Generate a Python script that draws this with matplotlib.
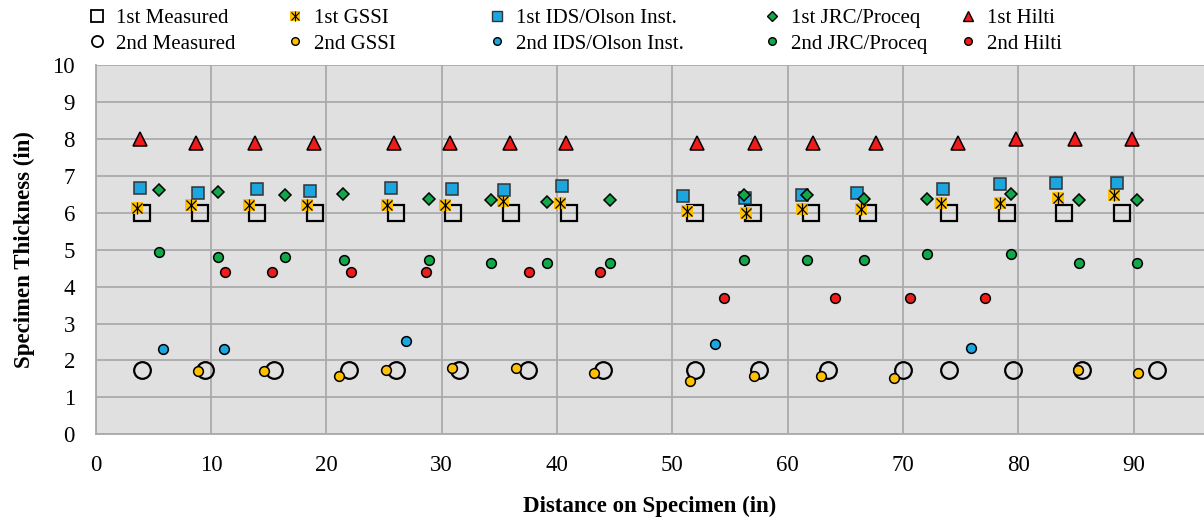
import matplotlib
matplotlib.use("Agg")
from matplotlib import pyplot as plt
from matplotlib.lines import Line2D
from matplotlib.legend_handler import HandlerTuple

plt.rcParams['font.family'] = ['Liberation Serif', 'DejaVu Serif']

# measured thickness
meas1_x = [4, 9, 14, 19, 26, 31, 36, 41, 52, 57, 62, 67, 74, 79, 84, 89]
meas1_y = [6.0] * 16
meas2_x = [4, 9.5, 15.5, 22, 26, 31.5, 37.5, 44, 52, 57.5, 63.5, 70, 74, 79.5, 85.5, 92]
meas2_y = [1.75] * 16

# GSSI
gssi1_x = [3.6, 8.25, 13.3, 18.3, 25.3, 30.3, 35.3, 40.3, 51.3, 56.4, 61.2, 66.4, 73.3, 78.4, 83.4, 88.3]
gssi1_y = [6.12, 6.2, 6.2, 6.2, 6.2, 6.2, 6.33, 6.27, 6.05, 5.99, 6.11, 6.11, 6.27, 6.27, 6.41, 6.48]
gssi2_x = [8.9, 14.6, 21.1, 25.2, 30.9, 36.4, 43.2, 51.5, 57.1, 62.9, 69.2, 85.2, 90.4]
gssi2_y = [1.72, 1.72, 1.59, 1.73, 1.8, 1.8, 1.66, 1.45, 1.59, 1.59, 1.52, 1.73, 1.66]

# IDS/Olson
ids1_x = [3.85, 8.9, 14.0, 18.55, 25.6, 30.9, 35.4, 40.4, 50.9, 56.3, 61.2, 66.05, 73.5, 78.4, 83.3, 88.55]
ids1_y = [6.68, 6.53, 6.64, 6.6, 6.68, 6.64, 6.61, 6.72, 6.45, 6.39, 6.49, 6.53, 6.64, 6.77, 6.8, 6.8]
ids2_x = [5.8, 11.15, 26.9, 53.7, 75.9]
ids2_y = [2.3, 2.3, 2.53, 2.45, 2.34]

# JRC/Proceq
jrc1_x = [5.5, 10.6, 16.45, 21.45, 28.9, 34.3, 39.1, 44.6, 56.25, 61.7, 66.6, 72.1, 79.4, 85.25, 90.3]
jrc1_y = [6.62, 6.57, 6.47, 6.51, 6.38, 6.34, 6.3, 6.34, 6.48, 6.47, 6.38, 6.38, 6.51, 6.34, 6.34]
jrc2_x = [5.5, 10.6, 16.45, 21.5, 28.9, 34.3, 39.1, 44.6, 56.25, 61.7, 66.6, 72.1, 79.4, 85.25, 90.3]
jrc2_y = [4.93, 4.8, 4.8, 4.72, 4.72, 4.65, 4.65, 4.65, 4.72, 4.72, 4.72, 4.88, 4.88, 4.65, 4.65]

# Hilti
hilti1_x = [3.8, 8.7, 13.8, 18.9, 25.9, 30.7, 35.9, 40.8, 52.1, 57.2, 62.2, 67.7, 74.8, 79.8, 84.9, 89.9]
hilti1_y = [8.0, 7.9, 7.9, 7.9, 7.9, 7.9, 7.9, 7.9, 7.9, 7.9, 7.9, 7.9, 7.9, 8.0, 8.0, 8.0]
hilti2_x = [11.2, 15.3, 22.1, 28.6, 37.6, 43.7, 54.5, 64.1, 70.6, 77.1]
hilti2_y = [4.4, 4.4, 4.4, 4.4, 4.4, 4.4, 3.7, 3.7, 3.7, 3.7]

yellow = '#FFC000'
blue = '#1CA6E0'
green = '#12A84A'
red = '#F01C1C'

fig = plt.figure(figsize=(12.04, 5.23), dpi=100)
ax = fig.add_axes([0.0795, 0.1696, 0.9205, 0.7061])
ax.set_facecolor('#E0E0E0')

ew = 1.1
ax.plot(meas1_x, meas1_y, ls='none', marker='s', ms=11.5, mfc='none', mec='black', mew=1.6)
ax.plot(meas2_x, meas2_y, ls='none', marker='o', ms=12, mfc='none', mec='black', mew=1.6)
ax.plot(gssi1_x, gssi1_y, ls='none', marker='s', ms=8, mfc=yellow, mec=yellow, mew=0)
ax.plot(gssi1_x, gssi1_y, ls='none', marker='x', ms=7, mec='black', mew=0.9)
ax.plot(gssi1_x, gssi1_y, ls='none', marker='|', ms=8, mec='black', mew=0.9)
ax.plot(gssi2_x, gssi2_y, ls='none', marker='o', ms=7, mfc=yellow, mec='black', mew=ew)
ax.plot(ids1_x, ids1_y, ls='none', marker='s', ms=8, mfc=blue, mec='#333333', mew=ew)
ax.plot(ids2_x, ids2_y, ls='none', marker='o', ms=7, mfc=blue, mec='black', mew=ew)
ax.plot(jrc1_x, jrc1_y, ls='none', marker='D', ms=6.5, mfc=green, mec='black', mew=ew)
ax.plot(jrc2_x, jrc2_y, ls='none', marker='o', ms=7, mfc=green, mec='black', mew=ew)
ax.plot(hilti1_x, hilti1_y, ls='none', marker='^', ms=9.5, mfc=red, mec='black', mew=ew)
ax.plot(hilti2_x, hilti2_y, ls='none', marker='o', ms=7, mfc=red, mec='black', mew=ew)

ax.set_xlim(0, 96.1)
ax.set_ylim(0, 10)
ax.set_xticks(range(0, 100, 10))
ax.set_yticks(range(0, 11))
ax.grid(True, color='#AAAAAA', lw=1.3)
ax.set_axisbelow(True)
for s in ['top', 'right']:
    ax.spines[s].set_visible(False)
for s in ['left', 'bottom']:
    ax.spines[s].set_color('#AAAAAA')
    ax.spines[s].set_linewidth(1.3)
ax.tick_params(length=0, labelsize=16.5, pad=15)

ax.set_xlabel('Distance on Specimen (in)', fontsize=16.5, fontweight='bold')
ax.set_ylabel('Specimen Thickness (in)', fontsize=16.5, fontweight='bold')
ax.xaxis.set_label_coords(0.5, -0.195)
ax.xaxis.label.set_va('center')
ax.yaxis.set_label_coords(-0.0645, 0.5)
ax.yaxis.label.set_va('center')

# legend handles, smaller than the plotted markers
def h(marker, ms, fc, ec='black', mew=1.0):
    return Line2D([], [], ls='none', marker=marker, ms=ms, mfc=fc, mec=ec, mew=mew)

gssi_leg = (h('s', 7, yellow, yellow, 0), h('x', 6, 'none', 'black', 0.8), h('|', 7, 'none', 'black', 0.8))
columns = [
    ([h('s', 8.5, 'none', 'black', 1.3), h('o', 8, 'none', 'black', 1.3)],
     ['1st Measured', '2nd Measured']),
    ([gssi_leg, h('o', 5.5, yellow)], ['1st GSSI', '2nd GSSI']),
    ([h('s', 7, blue, '#333333'), h('o', 5.5, blue)], ['1st IDS/Olson Inst.', '2nd IDS/Olson Inst.']),
    ([h('D', 5.5, green), h('o', 5.5, green)], ['1st JRC/Proceq', '2nd JRC/Proceq']),
    ([h('^', 7.5, red), h('o', 5.5, red)], ['1st Hilti', '2nd Hilti']),
]
col_left = [88.7, 286.7, 488.7, 763.7, 959.7]

# one legend per column so the columns sit where they should
for (hs, ls), x0 in zip(columns, col_left):
    fig.legend(hs, ls, loc='upper left', bbox_to_anchor=(x0 / 1204, 0.984),
               frameon=False, fontsize=15, handlelength=0.8, handletextpad=0.5,
               labelspacing=0.3, borderpad=0, borderaxespad=0,
               handler_map={tuple: HandlerTuple(ndivide=1, pad=0)})

plt.savefig('out.png', dpi=100)
